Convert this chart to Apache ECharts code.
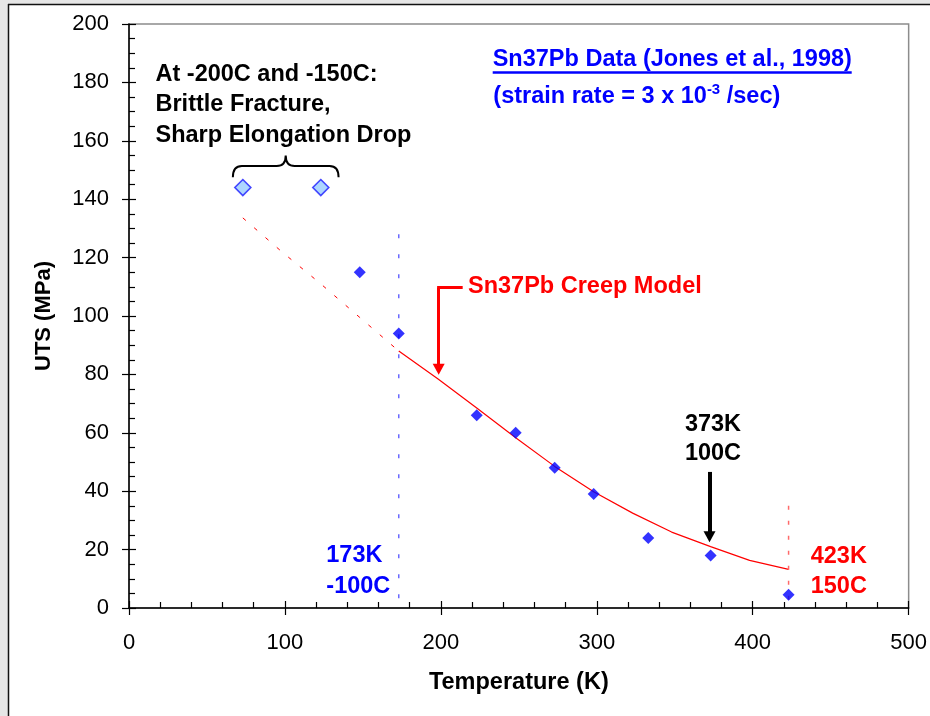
<!DOCTYPE html>
<html>
<head>
<meta charset="utf-8">
<script src="https://cdn.jsdelivr.net/npm/echarts@6/dist/echarts.min.js"></script>
<style>
html,body{margin:0;padding:0;background:#fff;}
#chart{width:930px;height:716px;}
</style>
</head>
<body>
<div id="chart"></div>
<script>
// ---- data ----
const brittleT = [73, 123];
const brittleUTS = [144, 144];
const dataT = [148, 173, 223, 248, 273, 298, 333, 373, 423];
const dataUTS = [115, 94, 66, 60, 48, 39, 24, 18, 4.5];
const modelDashT = [73, 98, 123, 148, 173];
const modelDashUTS = [133.6, 122, 111, 99.5, 88];
const modelT = [173, 198, 223, 248, 273, 298, 323, 348, 373, 398, 423];
const modelUTS = [88, 78.5, 68.5, 58.3, 48.5, 39.8, 32.5, 26, 21, 16.3, 13.2];
const refBlueT = [173, 173];
const refBlueUTS = [128, 0];
const refRedT = [423, 423];
const refRedUTS = [35, 0];
const xTicks = { min: 0, max: 500, interval: 100 };
const yTicks = { min: 0, max: 200, interval: 20 };

const zip = (a, b) => a.map((v, i) => [v, b[i]]);
const FONT = '"Liberation Sans", Arial, sans-serif';
const BF = 'bold 23.5px ' + FONT;

const chart = echarts.init(document.getElementById('chart'), null, { renderer: 'canvas' });

const baseX = {
  type: 'value', min: xTicks.min, max: xTicks.max, interval: xTicks.interval,
  splitLine: { show: false }
};
const baseY = {
  type: 'value', min: yTicks.min, max: yTicks.max, interval: yTicks.interval,
  splitLine: { show: false }
};

const option = {
  animation: false,
  backgroundColor: '#ffffff',
  textStyle: { fontFamily: FONT },
  grid: {
    left: 129, top: 24, width: 781, height: 584,
    show: true, borderColor: '#8c8c8c', borderWidth: 1.5, backgroundColor: 'transparent'
  },
  xAxis: [
    Object.assign({}, baseX, {
      position: 'bottom',
      name: 'Temperature (K)', nameLocation: 'middle', nameGap: 63,
      nameTextStyle: { fontSize: 23.5, fontWeight: 'bold', color: '#000', fontFamily: FONT },
      axisLine: { lineStyle: { color: '#000', width: 1.5 } },
      axisTick: { show: true, inside: false, length: 7, lineStyle: { color: '#000', width: 1.2 } },
      minorTick: { show: false },
      axisLabel: { fontSize: 22, color: '#000', margin: 24, fontFamily: FONT }
    }),
    Object.assign({}, baseX, {
      position: 'bottom',
      axisLine: { show: false },
      axisTick: { show: true, inside: true, length: 7, lineStyle: { color: '#000', width: 1.2 } },
      minorTick: { show: true, splitNumber: 5, length: 6, lineStyle: { color: '#000', width: 1.2 } },
      axisLabel: { show: false }
    })
  ],
  yAxis: [
    Object.assign({}, baseY, {
      position: 'left',
      name: 'UTS (MPa)', nameLocation: 'middle', nameGap: 74,
      nameTextStyle: { fontSize: 22, fontWeight: 'bold', color: '#000', fontFamily: FONT },
      axisLine: { lineStyle: { color: '#000', width: 1.5 } },
      axisTick: { show: true, inside: false, length: 7, lineStyle: { color: '#000', width: 1.2 } },
      minorTick: { show: false },
      axisLabel: { fontSize: 22, color: '#000', margin: 20, fontFamily: FONT }
    }),
    Object.assign({}, baseY, {
      position: 'left',
      axisLine: { show: false },
      axisTick: { show: true, inside: true, length: 7, lineStyle: { color: '#000', width: 1.2 } },
      minorTick: { show: true, splitNumber: 4, length: 6, lineStyle: { color: '#000', width: 1.2 } },
      axisLabel: { show: false }
    })
  ],
  series: [
    {
      name: 'model-extrap', type: 'line', xAxisIndex: 0, yAxisIndex: 0,
      data: zip(modelDashT, modelDashUTS), symbol: 'none', silent: true,
      lineStyle: { color: '#ff0000', width: 1, type: [4, 11] }
    },
    {
      name: 'model', type: 'line', xAxisIndex: 0, yAxisIndex: 0,
      data: zip(modelT, modelUTS), symbol: 'none', silent: true,
      lineStyle: { color: '#ff0000', width: 1.2 }
    },
    {
      name: 'ref173', type: 'line', xAxisIndex: 0, yAxisIndex: 0,
      data: zip(refBlueT, refBlueUTS), symbol: 'none', silent: true,
      lineStyle: { color: '#6a6aff', width: 1.5, type: [4, 16] }
    },
    {
      name: 'ref423', type: 'line', xAxisIndex: 0, yAxisIndex: 0,
      data: zip(refRedT, refRedUTS), symbol: 'none', silent: true,
      lineStyle: { color: '#ff6a6a', width: 1.5, type: [4, 11] }
    },
    {
      name: 'data', type: 'scatter', xAxisIndex: 0, yAxisIndex: 0,
      data: zip(dataT, dataUTS), symbol: 'diamond', symbolSize: 12,
      itemStyle: { color: '#0000ff' }, z: 5
    },
    {
      name: 'brittle', type: 'scatter', xAxisIndex: 0, yAxisIndex: 0,
      data: zip(brittleT, brittleUTS), symbol: 'diamond', symbolSize: 16,
      itemStyle: { color: '#99ccff', borderColor: '#1a1aff', borderWidth: 1.6 }, z: 5
    },
    {
      name: 'arrows', type: 'line', xAxisIndex: 0, yAxisIndex: 0, data: [],
      markLine: {
        silent: true, animation: false,
        label: { show: false },
        symbolSize: [12, 11],
        data: [
          [
            { coord: [214, 109.7], symbol: 'none', lineStyle: { color: '#ff0000', width: 3, type: 'solid' } },
            { coord: [197.6, 109.7], symbol: 'none' }
          ],
          [
            { coord: [198.6, 109.7], symbol: 'none', lineStyle: { color: '#ff0000', width: 3, type: 'solid' } },
            { coord: [198.6, 81.8], symbol: 'triangle' }
          ],
          [
            { coord: [372.3, 46.6], symbol: 'none', lineStyle: { color: '#000000', width: 4, type: 'solid' } },
            { coord: [372.3, 24.4], symbol: 'triangle' }
          ]
        ]
      }
    },
    {
      name: 'brace', type: 'custom', xAxisIndex: 0, yAxisIndex: 0, silent: true,
      data: [[66.6, 147.5, 134.4, 151.4, 100.5, 155]],
      renderItem: function (params, api) {
        const l = api.coord([api.value(0), api.value(1)]);
        const r = api.coord([api.value(2), api.value(1)]);
        const mid = api.coord([api.value(4), api.value(3)]);
        const tip = api.coord([api.value(4), api.value(5)]);
        const yb = l[1], yt = mid[1], xl = l[0], xr = r[0], xm = tip[0], yp = tip[1];
        const c = 9;
        const path = 'M' + xl + ' ' + yb +
          ' Q' + xl + ' ' + yt + ' ' + (xl + c) + ' ' + yt +
          ' L' + (xm - c) + ' ' + yt +
          ' Q' + xm + ' ' + yt + ' ' + xm + ' ' + yp +
          ' Q' + xm + ' ' + yt + ' ' + (xm + c) + ' ' + yt +
          ' L' + (xr - c) + ' ' + yt +
          ' Q' + xr + ' ' + yt + ' ' + xr + ' ' + yb;
        return {
          type: 'path',
          shape: { pathData: path },
          style: { fill: null, stroke: '#000', lineWidth: 2 }
        };
      }
    }
  ],
  graphic: [
    { type: 'rect', z: -10, shape: { x: 0, y: 0, width: 8, height: 716 }, style: { fill: '#e6e6e6' }, silent: true },
    { type: 'rect', z: -10, shape: { x: 0, y: 0, width: 930, height: 4 }, style: { fill: '#e6e6e6' }, silent: true },
    { type: 'line', z: -9, shape: { x1: 8.5, y1: 4, x2: 8.5, y2: 716 }, style: { stroke: '#111', lineWidth: 1.5 }, silent: true },
    { type: 'line', z: -9, shape: { x1: 8, y1: 4.5, x2: 930, y2: 4.5 }, style: { stroke: '#111', lineWidth: 1.5 }, silent: true },
    {
      type: 'text', z: 10, silent: true,
      style: {
        text: 'At -200C and -150C:\nBrittle Fracture,\nSharp Elongation Drop',
        x: 155.5, y: 105, align: 'left', verticalAlign: 'middle', lineHeight: 30.5,
        font: BF, fill: '#000'
      }
    },
    {
      type: 'text', z: 10, silent: true,
      style: {
        text: 'Sn37Pb Data (Jones et al., 1998)',
        x: 492.7, y: 60, align: 'left', verticalAlign: 'middle',
        font: BF, fill: '#0000ff'
      }
    },
    { type: 'line', z: 10, silent: true, shape: { x1: 492.7, y1: 72.5, x2: 851.7, y2: 72.5 }, style: { stroke: '#0000ff', lineWidth: 2.5 } },
    {
      type: 'text', z: 10, silent: true,
      style: {
        text: '{m|(strain rate = 3 x 10}{s|-3}{m| /sec)}',
        x: 493.3, y: 96.7, align: 'left', verticalAlign: 'middle',
        font: BF, fill: '#0000ff',
        rich: {
          m: { font: BF, fill: '#0000ff', lineHeight: 28 },
          s: { font: 'bold 15px ' + FONT, fill: '#0000ff', lineHeight: 14, verticalAlign: 'top' }
        }
      }
    },
    {
      type: 'text', z: 10, silent: true,
      style: {
        text: 'Sn37Pb Creep Model',
        x: 468, y: 286.7, align: 'left', verticalAlign: 'middle',
        font: BF, fill: '#ff0000'
      }
    },
    {
      type: 'text', z: 10, silent: true,
      style: {
        text: '373K\n100C',
        x: 713, y: 439.5, align: 'center', verticalAlign: 'middle', lineHeight: 29,
        font: BF, fill: '#000'
      }
    },
    {
      type: 'text', z: 10, silent: true,
      style: {
        text: '423K\n150C',
        x: 810.7, y: 571.7, align: 'left', verticalAlign: 'middle', lineHeight: 30,
        font: BF, fill: '#ff0000'
      }
    },
    {
      type: 'text', z: 10, silent: true,
      style: {
        text: '173K\n-100C',
        x: 326.3, y: 571.5, align: 'left', verticalAlign: 'middle', lineHeight: 31,
        font: BF, fill: '#0000ff'
      }
    }
  ]
};

chart.setOption(option);
</script>
</body>
</html>
